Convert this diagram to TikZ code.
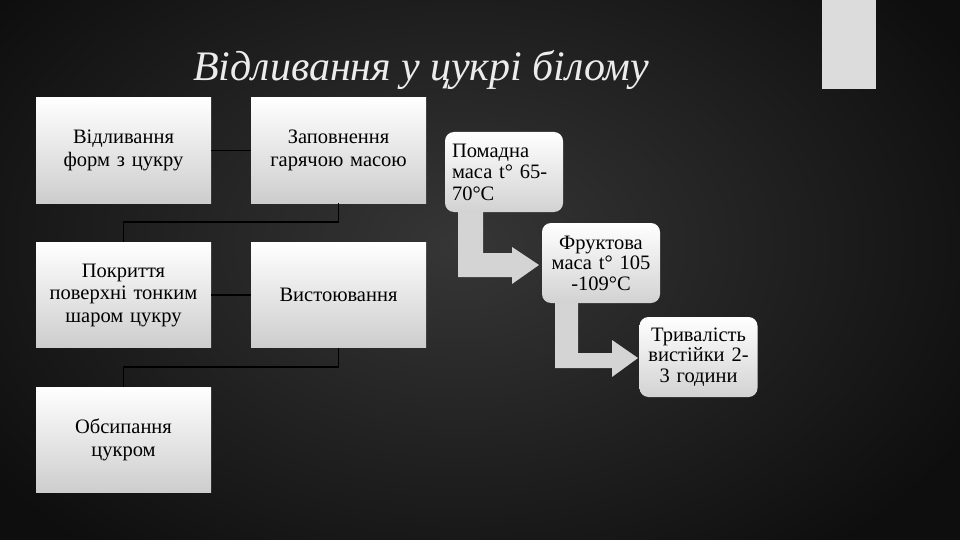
\documentclass[tikz,border=0pt]{standalone}
\usepackage{fontspec}
\setmainfont{Liberation Serif}
\definecolor{bgin}{HTML}{363636}
\definecolor{bgout}{HTML}{0E0E0E}
\definecolor{boxbot}{HTML}{CDCDCD}
\definecolor{arrowc}{HTML}{D4D4D4}
\definecolor{titlec}{HTML}{ECECEC}
\definecolor{barc}{HTML}{DCDCDC}
\tikzset{
  sqbox/.style={rectangle, minimum width=175pt, minimum height=105pt, inner sep=2pt,
    top color=white, bottom color=boxbot, align=center, text width=171pt,
    font=\fontsize{20.5}{22.5}\selectfont, text=black},
  rbox/.style={rectangle, rounded corners=9pt, minimum width=118pt, minimum height=80pt, inner sep=3pt,
    top color=white, bottom color=boxbot!90!white, align=center, text width=112pt,
    font=\fontsize{20.5}{20.5}\selectfont, text=black},
  link/.style={draw=black, line width=1.6pt},
  bentarrow/.style={fill=arrowc, draw=none}
}
\begin{document}
\begin{tikzpicture}[x=1pt,y=-1pt]
\useasboundingbox (0,0) rectangle (960,540);
% background
\shade[inner color=bgin, outer color=bgout] (-120,-150) rectangle (1040,640);
\fill[barc] (822,0) rectangle (876,89);
% title
\node[anchor=base west, inner sep=0pt, text=titlec, font=\fontsize{42}{44}\selectfont\itshape] (title) at (193,81) {Відливання у цукрі білому};
% left boxes
\node[sqbox] (A) at (123.5,150.5) {Відливання\\форм з цукру};
\node[sqbox] (B) at (338.5,150.5) {Заповнення\\гарячою масою};
\node[sqbox] (C) at (123.5,295) {Покриття\\поверхні тонким\\шаром цукру};
\node[sqbox] (D) at (338.5,295) {Вистоювання};
\node[sqbox] (E) at (123.5,440) {Обсипання\\цукром};
\draw[link] (A.east) -- (B.west);
\draw[link] (C.east) -- (D.west);
\draw[link] (B.south) -- ++(0,19) -| (C.north);
\draw[link] (D.south) -- ++(0,19) -| (E.north);
% bent arrows
\fill[bentarrow] (458,205) -- (483,205) -- (483,253) -- (512,253) -- (512,247) -- (539,265) -- (512,284) -- (512,277) -- (458,277) -- cycle;
\fill[bentarrow] (555,298) -- (578,298) -- (578,353) -- (612,353) -- (612,340) -- (638,358) -- (612,377) -- (612,368) -- (555,368) -- cycle;
% right boxes
\node[rbox, align=left, text width=104pt, font=\fontsize{20.5}{21.5}\selectfont] (P1) at (504,172) {Помадна\\\makebox[100pt][s]{маса t° 65-}\\70°C};
\node[rbox] (P2) at (601,263) {Фруктова\\маса t° 105\\-109°C};
\node[rbox] (P3) at (698.5,357) {Тривалість\\вистійки 2-\\3 години};
\end{tikzpicture}
\end{document}
